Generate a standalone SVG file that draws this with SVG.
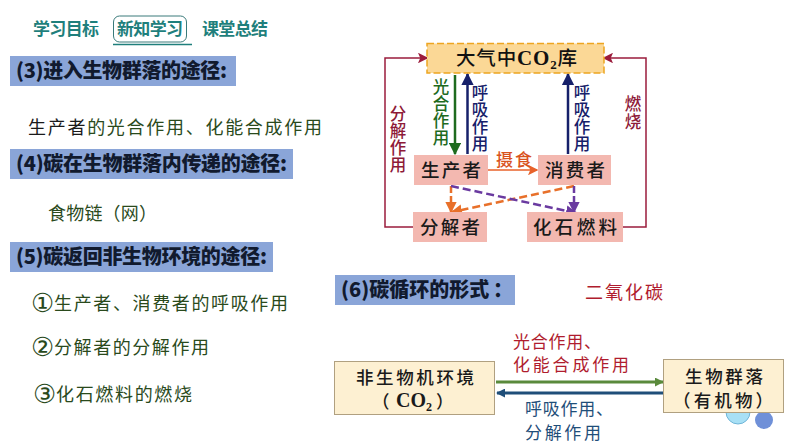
<svg xmlns="http://www.w3.org/2000/svg" width="794" height="447" viewBox="0 0 794 447">
<defs>
<marker id="aG" markerWidth="5" markerHeight="5" refX="4.5" refY="2.5" orient="auto"><path d="M0 0L5 2.5L0 5z" fill="#1e6b1e"/></marker>
<marker id="aN" markerWidth="5" markerHeight="5" refX="4.5" refY="2.5" orient="auto"><path d="M0 0L5 2.5L0 5z" fill="#16206a"/></marker>
<marker id="aR" markerWidth="7" markerHeight="7" refX="6" refY="3.5" orient="auto"><path d="M0 0L7 3.5L0 7L1.5 3.5z" fill="#9b1c3c"/></marker>
<marker id="aO" markerWidth="7" markerHeight="7" refX="6" refY="3.5" orient="auto"><path d="M0 0L7 3.5L0 7L1.5 3.5z" fill="#e8622a"/></marker>
<marker id="aD" markerWidth="4.5" markerHeight="4.5" refX="4" refY="2.25" orient="auto"><path d="M0 0L4.5 2.25L0 4.5z" fill="#e8702a"/></marker>
<marker id="aP" markerWidth="4.5" markerHeight="4.5" refX="4" refY="2.25" orient="auto"><path d="M0 0L4.5 2.25L0 4.5z" fill="#6a3aa0"/></marker>
<marker id="aB1" markerWidth="3" markerHeight="3" refX="2.7" refY="1.500" orient="auto"><path d="M0 0L3 1.500L0 3z" fill="#5a8a3c"/></marker>
<marker id="aB2" markerWidth="3" markerHeight="3" refX="2.7" refY="1.500" orient="auto"><path d="M0 0L3 1.500L0 3z" fill="#1f4e79"/></marker>
</defs>
<style>
text{font-family:"Noto Sans CJK SC","Noto Sans",sans-serif}
.tab{font-size:17px;font-weight:700;fill:#1f7f7c}
.band{fill:#8aa5d8}
.h{font-size:20px;font-weight:900;fill:#111a2e}
.b{font-size:18px;fill:#2a4a1c;font-weight:400}
.c{font-family:"DejaVu Sans",sans-serif;font-size:26px;fill:#2a4a1c}
.n{font-size:18.500px;fill:#1a1a1a;font-weight:500}
.v{font-size:16.500px;writing-mode:vertical-rl;font-weight:500}
.cr{font-family:"Liberation Serif",serif;font-weight:700}
.pk{fill:#f3b8b0}
.cream{fill:#fdf0d2;stroke:#b0a080;stroke-width:1}
.l{font-size:17px;font-weight:400}
.d{font-size:17.500px;fill:#1a1a1a;font-weight:500}
</style>
<g id="tabs">
<text class="tab" x="33" y="35" textLength="66">学习目标</text>
<rect x="113.500" y="16" width="73" height="26" rx="6" fill="#fff" stroke="#3a7a7a" stroke-width="1"/>
<text class="tab" x="117" y="35" textLength="66">新知学习</text>
<line x1="113" y1="44.500" x2="192" y2="44.500" stroke="#1f7f7c" stroke-width="1.500"/>
<text class="tab" x="202" y="35" textLength="66">课堂总结</text>
</g>
<g id="sec3">
<rect class="band" x="10" y="56" width="226" height="30"/>
<text class="h" x="16" y="78" textLength="211">(3)进入生物群落的途径:</text>
<text class="b" x="28" y="134" textLength="294"><tspan fill="#1a1a1a">生产者</tspan>的光合作用、化能合成作用</text>
</g>
<g id="sec4">
<rect class="band" x="10" y="149" width="283" height="30"/>
<text class="h" x="16" y="171" textLength="271">(4)碳在生物群落内传递的途径:</text>
<text class="b" x="48" y="220" textLength="109">食物链（网）</text>
</g>
<g id="sec5">
<rect class="band" x="10" y="242" width="263" height="30"/>
<text class="h" x="16" y="264" textLength="251">(5)碳返回非生物环境的途径:</text>
<text class="c" x="31" y="312">①</text><text class="b" x="54" y="310" textLength="234">生产者、消费者的呼吸作用</text>
<text class="c" x="31" y="356">②</text><text class="b" x="54" y="354" textLength="155">分解者的分解作用</text>
<text class="c" x="33" y="403">③</text><text class="b" x="56" y="401" textLength="136">化石燃料的燃烧</text>
</g>
<g id="sec6">
<rect class="band" x="335" y="275" width="180" height="30"/>
<text class="h" x="341" y="297">(6)碳循环的形式<tspan x="493">：</tspan></text>
<text x="585" y="299" font-size="18" fill="#b01c2e" textLength="78">二氧化碳</text>
</g>
<g id="connectors" fill="none">
<line x1="455" y1="75" x2="455" y2="154" stroke="#1e6b1e" stroke-width="2.500" marker-end="url(#aG)"/>
<line x1="467.500" y1="154" x2="467.500" y2="74" stroke="#16206a" stroke-width="2.500" marker-end="url(#aN)"/>
<line x1="568" y1="154" x2="568" y2="74" stroke="#16206a" stroke-width="2.500" marker-end="url(#aN)"/>
<polyline points="413,227 385,227 385,58 427,58" stroke="#9b1c3c" stroke-width="1.500" marker-end="url(#aR)"/>
<polyline points="623,227 646,227 646,58 604,58" stroke="#9b1c3c" stroke-width="1.500" marker-end="url(#aR)"/>
<line x1="488" y1="170" x2="537" y2="170" stroke="#e8622a" stroke-width="1.500" marker-end="url(#aO)"/>
<line x1="451" y1="186" x2="451" y2="212" stroke="#e8702a" stroke-width="2.500" stroke-dasharray="7 3" marker-end="url(#aD)"/>
<line x1="574" y1="186" x2="452" y2="212" stroke="#e8702a" stroke-width="2.500" stroke-dasharray="8 4" marker-end="url(#aD)"/>
<line x1="451" y1="186" x2="576" y2="213" stroke="#6a3aa0" stroke-width="2.500" stroke-dasharray="8 4" marker-end="url(#aP)"/>
<line x1="574" y1="186" x2="574" y2="212" stroke="#6a3aa0" stroke-width="2.500" stroke-dasharray="7 3" marker-end="url(#aP)"/>
<line x1="496" y1="382" x2="663" y2="382" stroke="#5a8a3c" stroke-width="3" marker-end="url(#aB1)"/>
<line x1="663" y1="393" x2="497" y2="393" stroke="#1f4e79" stroke-width="3" marker-end="url(#aB2)"/>
</g>
<g id="atm">
<rect x="427" y="43.500" width="177" height="29.500" fill="#fbd896" stroke="#eda520" stroke-width="1.500" stroke-dasharray="7 3"/>
<text x="456" y="65" font-size="19.500" fill="#111" font-weight="500" textLength="121">大气中<tspan class="cr" font-size="21">CO</tspan><tspan class="cr" font-size="13" dy="4">2</tspan><tspan dy="-4">库</tspan></text>
</g>
<g id="producer"><rect class="pk" x="414" y="155" width="74" height="30"/><text class="n" x="421" y="177" textLength="60">生产者</text></g>
<g id="consumer"><rect class="pk" x="538" y="155" width="73" height="30"/><text class="n" x="545" y="177" textLength="60">消费者</text></g>
<g id="decomposer"><rect class="pk" x="413" y="212" width="74" height="30"/><text class="n" x="420" y="234" textLength="60">分解者</text></g>
<g id="fossil"><rect class="pk" x="527" y="212" width="96" height="30"/><text class="n" x="533" y="234" textLength="84">化石燃料</text></g>
<g id="labels">
<text class="v" x="441" y="78" fill="#1e6b1e" textLength="68">光合作用</text>
<text class="v" x="480" y="84" fill="#16206a" textLength="68">呼吸作用</text>
<text class="v" x="582" y="84" fill="#16206a" textLength="68">呼吸作用</text>
<text class="v" x="398" y="105" fill="#8e1a38" textLength="68">分解作用</text>
<text class="v" x="633" y="95" fill="#8e1a38" textLength="35">燃烧</text>
<text x="496" y="166" font-size="17" font-weight="500" fill="#d9531e" textLength="36">摄食</text>
</g>
<g id="bubbles">
<circle cx="738" cy="412" r="12" fill="#a8e0f5" stroke="#6fb5d8"/>
<circle cx="764" cy="420" r="9" fill="#6f90d8"/>
</g>
<g id="env"><rect class="cream" x="334.500" y="361.500" width="160" height="53"/>
<text class="d" x="356" y="384" textLength="118">非生物机环境</text>
<text class="d" x="372" y="408">（</text><text class="cr" x="396" y="407" font-size="20" fill="#1a1a1a">CO<tspan font-size="12" dy="4">2</tspan></text><text class="d" x="436" y="408">）</text>
</g>
<g id="bio"><rect class="cream" x="663.500" y="359.500" width="120" height="53"/>
<text class="d" x="685" y="383" textLength="78">生物群落</text>
<text class="d" x="673" y="407" textLength="100">（有机物）</text>
</g>
<g id="arrow-labels">
<text class="l" x="513" y="348" fill="#b01c2e" textLength="88">光合作用、</text>
<text class="l" x="513" y="371" fill="#b01c2e" textLength="116">化能合成作用</text>
<text class="l" x="525" y="415" fill="#1f4e79" textLength="88">呼吸作用、</text>
<text class="l" x="525" y="439" fill="#1f4e79" textLength="76">分解作用</text>
</g>
</svg>
